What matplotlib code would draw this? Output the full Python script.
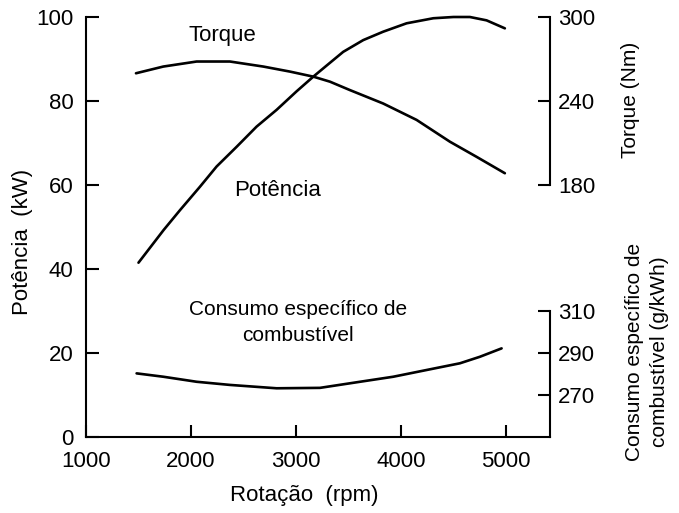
import matplotlib
matplotlib.use("Agg")
import matplotlib.pyplot as plt

plt.rcParams['font.family'] = ['Liberation Sans', 'DejaVu Sans']

# Power (kW), left axis
rpm_power = [1500, 1740, 1895, 2086, 2244, 2435, 2625, 2816, 3006, 3170, 3300,
             3450, 3641, 3831, 4054, 4308, 4500, 4657, 4816, 4990]
power = [41.5, 49.3, 54.0, 59.6, 64.4, 69.1, 73.9, 77.9, 82.3, 85.9, 88.6,
         91.7, 94.5, 96.5, 98.5, 99.7, 100.0, 100.0, 99.2, 97.3]

# Torque (Nm), upper right axis
rpm_torque = [1476, 1736, 2054, 2371, 2689, 2943, 3165, 3324, 3514, 3831, 4149,
              4467, 4721, 4990]
torque = [259.8, 264.6, 268.2, 268.2, 264.6, 261.0, 257.4, 253.8, 247.8, 238.2,
          226.5, 210.9, 200.1, 188.4]

# Specific fuel consumption (g/kWh), lower right axis
rpm_consumo = [1482, 1736, 2054, 2371, 2816, 3229, 3610, 3927, 4244, 4562, 4752, 4959]
consumo = [280.3, 278.7, 276.3, 274.8, 273.2, 273.4, 276.3, 278.7, 281.9, 285.1,
           288.2, 292.2]

x_ticks = [1000, 2000, 3000, 4000, 5000]
p_ticks = [0, 20, 40, 60, 80, 100]
t_ticks = [180, 240, 300]
c_ticks = [270, 290, 310]

W, H = 679, 513
fig = plt.figure(figsize=(W / 100, H / 100), dpi=100)
L, R, B, T = 86, 550, 437, 17
ax = fig.add_axes([L / W, 1 - B / H, (R - L) / W, (B - T) / H])

lw_curve = 1.9
lw_spine = 1.5
fs = 16

ax.plot(rpm_power, power, color='black', lw=lw_curve, solid_capstyle='round',
        solid_joinstyle='round', clip_on=False)
ax.set_xlim(1000, 5420)
ax.set_ylim(0, 100)
ax.set_xticks(x_ticks)
ax.set_yticks(p_ticks)
ax.spines['top'].set_visible(False)
ax.spines['right'].set_visible(False)
for s in ('left', 'bottom'):
    ax.spines[s].set_linewidth(lw_spine)
ax.tick_params(axis='both', direction='in', length=9, width=lw_spine, labelsize=fs, colors='black')
ax.tick_params(axis='y', pad=9)
ax.tick_params(axis='x', pad=10)

# Torque axis
axt = ax.twinx()
axt.plot(rpm_torque, torque, color='black', lw=lw_curve, solid_capstyle='round',
         solid_joinstyle='round')
axt.set_ylim(0, 300)
axt.set_yticks(t_ticks)
axt.spines['right'].set_bounds(180, 300)
for s in ('top', 'left', 'bottom'):
    axt.spines[s].set_visible(False)
axt.spines['right'].set_linewidth(lw_spine)
axt.tick_params(axis='y', direction='in', length=9, width=lw_spine, labelsize=fs, pad=6)

# Consumption axis
axc = ax.twinx()
axc.plot(rpm_consumo, consumo, color='black', lw=lw_curve, solid_capstyle='round',
         solid_joinstyle='round')
axc.set_ylim(250, 450)
axc.set_yticks(c_ticks)
axc.spines['right'].set_bounds(250, 310)
for s in ('top', 'left', 'bottom'):
    axc.spines[s].set_visible(False)
axc.spines['right'].set_linewidth(lw_spine)
axc.tick_params(axis='y', direction='in', length=9, width=lw_spine, labelsize=fs, pad=6)

# In-plot annotations
ax.text(2295, 95.7, 'Torque', ha='center', va='center', fontsize=fs)
ax.text(2824, 58.8, 'Potência', ha='center', va='center', fontsize=fs)
ax.text(3020, 27.3, 'Consumo específico de\ncombustível', ha='center', va='center',
        fontsize=fs - 1, multialignment='center', linespacing=1.45)

# Axis labels
fig.text(304 / W, 1 - 495 / H, 'Rotação  (rpm)', ha='center', va='center', fontsize=fs)
fig.text(23 / W, 1 - 242 / H, 'Potência  (kW)', ha='center', va='center', fontsize=fs, rotation=90)
fig.text(630 / W, 1 - 100 / H, 'Torque (Nm)', ha='center', va='center', fontsize=fs - 1, rotation=90)
fig.text(647 / W, 1 - 352 / H, 'Consumo específico de\ncombustível (g/kWh)', ha='center', va='center',
         fontsize=fs - 1, rotation=90, multialignment='center', linespacing=1.45)

fig.savefig('out.png', dpi=100)
